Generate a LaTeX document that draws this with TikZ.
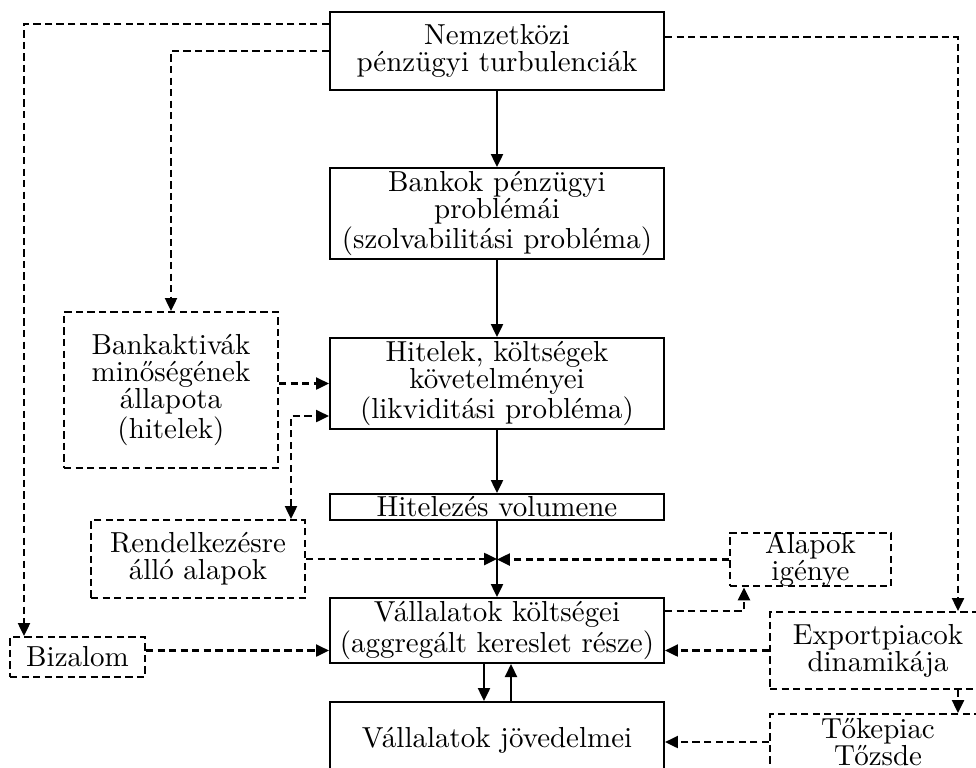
\documentclass[tikz,border=0pt]{standalone}
\usepackage{tikz}
\usetikzlibrary{arrows.meta,calc,positioning}

\begin{document}
\begin{tikzpicture}[x=0.125mm,y=-0.125mm,
	font=\fontsize{10.3}{9.6}\selectfont,
	>={Triangle[length=4.6pt,width=4.3pt]},
	box/.style={draw,line width=0.75pt,align=center,inner sep=0pt},
	dbox/.style={box,dash pattern=on 2.6pt off 1.5pt},
	link/.style={line width=0.75pt,->},
	dlink/.style={link,dash pattern=on 2.6pt off 1.5pt}]
	\useasboundingbox (0,0) rectangle (976,767);
	\clip (0,0) rectangle (976,767);

	% main chain
	\node[box,minimum width=4.175cm,minimum height=0.975cm] (nemzet) at (497,51) {Nemzetközi\\pénzügyi turbulenciák};
	\node[box,minimum width=4.175cm,minimum height=1.1375cm] (bankok) at (497,213.5) {Bankok pénzügyi\\problémái\\(szolvabilitási probléma)};
	\node[box,minimum width=4.175cm,minimum height=1.1375cm] (hitelek) at (497,383.5) {Hitelek, költségek\\követelményei\\(likviditási probléma)};
	\node[box,minimum width=4.175cm,minimum height=0.325cm] (volumen) at (497,507) {Hitelezés volumene};
	\node[box,minimum width=4.175cm,minimum height=0.8125cm] (koltseg) at (497,630.5) {Vállalatok költségei\\(aggregált kereslet része)};
	\node[box,minimum width=4.175cm,minimum height=0.95cm] (jovedelem) at (497,740) {Vállalatok jövedelmei};

	% side factors
	\node[dbox,minimum width=2.675cm,minimum height=1.95cm] (bankakt) at (171,390) {Bankaktivák\\minőségének\\állapota\\(hitelek)};
	\node[dbox,minimum width=2.675cm,minimum height=0.975cm] (rendelk) at (198,559) {Rendelkezésre\\álló alapok};
	\node[dbox,minimum width=1.6875cm,minimum height=0.5cm] (bizalom) at (77.5,657) {Bizalom};
	\node[dbox,minimum width=2.0125cm,minimum height=0.6625cm] (alapok) at (810.5,559.5) {Alapok\\igénye};
	\node[dbox,minimum width=2.7cm,minimum height=0.9625cm] (export) at (878,650.5) {Exportpiacok\\dinamikája};
	\node[dbox,minimum width=2.7cm,minimum height=0.7cm] (tokepiac) at (878,742) {Tőkepiac\\Tőzsde};

	\coordinate (lx) at (24,0);
	\coordinate (rx) at (958,0);
	\coordinate (ax) at (744,0);
	\coordinate (mx) at (291,416);
	\coordinate (dx) at (484,0);
	\coordinate (ux) at (511,0);

	\draw[link] (nemzet) -- (bankok);
	\draw[link] (bankok) -- (hitelek);
	\draw[link] (hitelek) -- (volumen);
	\draw[link] (volumen) -- (koltseg);
	\draw[link] (koltseg.south -| dx) -- (jovedelem.north -| dx);
	\draw[link] (jovedelem.north -| ux) -- (koltseg.south -| ux);

	\draw[dlink] ($(nemzet.north west)+(0,13)$) -| (bizalom.north -| lx);
	\draw[dlink] (nemzet.west) -| (bankakt.north);
	\draw[dlink] ($(nemzet.north east)+(0,26)$) -| (export.north -| rx);
	\draw[dlink] (bankakt.east |- hitelek.west) -- (hitelek.west);
	\draw[dlink,<->] (rendelk.north -| mx) |- (hitelek.west |- mx);
	\draw[dlink] (rendelk.east) -- (rendelk.east -| volumen.south);
	\draw[dlink] (alapok.west) -- (alapok.west -| volumen.south);
	\draw[dlink] ($(koltseg.north east)+(0,14)$) -| (alapok.south -| ax);
	\draw[dlink] (export.west) -- (export.west -| koltseg.east);
	\draw[dlink] (bizalom.east |- export.west) -- (koltseg.west |- export.west);
	\draw[dlink] (export.south -| rx) -- (tokepiac.north -| rx);
	\draw[dlink] (tokepiac.west) -- (tokepiac.west -| jovedelem.east);
\end{tikzpicture}
\end{document}
